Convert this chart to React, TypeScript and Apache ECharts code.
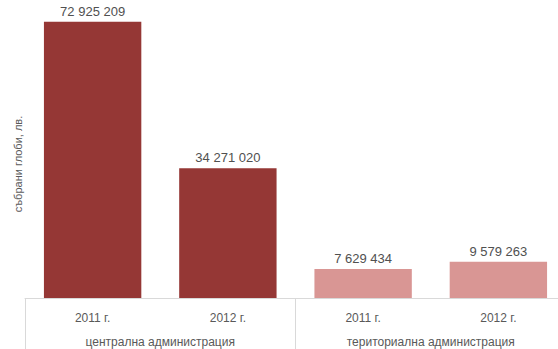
import React, { useEffect, useRef } from "react";
import * as echarts from "echarts";

const years = ["2011 г.", "2012 г.", "2011 г.", "2012 г."];
const groups = ["централна администрация", "териториална администрация"];
const fines = [72925209, 34271020, 7629434, 9579263];
const barColors = ["#953735", "#953735", "#D99694", "#D99694"];
const yAxisTitle = "събрани глоби, лв.";

const fmt = (v: number) =>
  String(Math.round(v)).replace(/\B(?=(\d{3})+(?!\d))/g, " ");

export default function App() {
  const ref = useRef<HTMLDivElement>(null);
  useEffect(() => {
    document.body.style.margin = "0";
    const chart = echarts.init(ref.current!, null, { renderer: "svg" });
    const font = "'Liberation Sans', Arial, sans-serif";
    chart.setOption({
      animation: false,
      grid: {
        left: 25,
        top: -5,
        width: 541,
        height: 303,
        containLabel: false,
        outerBoundsMode: "none",
      },
      xAxis: [
        {
          type: "category",
          data: years,
          position: "bottom",
          axisLine: { show: true, lineStyle: { color: "#D9D9D9", width: 1 } },
          axisTick: { show: false },
          axisLabel: { color: "#595959", fontSize: 12, fontFamily: font, margin: 14 },
        },
        {
          type: "category",
          data: groups,
          position: "bottom",
          axisLine: { show: false },
          axisTick: { show: true, length: 52, lineStyle: { color: "#D9D9D9" } },
          axisLabel: { color: "#595959", fontSize: 12, fontFamily: font, margin: 38 },
        },
      ],
      yAxis: {
        type: "value",
        min: 0,
        max: 80000000,
        show: false,
      },
      graphic: [
        {
          type: "text",
          x: 18,
          y: 164,
          rotation: Math.PI / 2,
          style: {
            text: yAxisTitle,
            fill: "#595959",
            fontSize: 11,
            fontFamily: font,
            align: "center",
            verticalAlign: "middle",
          },
        },
      ],
      series: [
        {
          type: "bar",
          xAxisIndex: 0,
          barWidth: "72%",
          data: fines.map((v, i) => ({ value: v, itemStyle: { color: barColors[i] } })),
          label: {
            show: true,
            position: "top",
            distance: 4,
            color: "#505050",
            fontSize: 13,
            fontFamily: font,
            formatter: (p: any) => fmt(p.value),
          },
        },
      ],
    });
    return () => chart.dispose();
  }, []);
  return <div ref={ref} style={{ width: 558, height: 349 }} />;
}
